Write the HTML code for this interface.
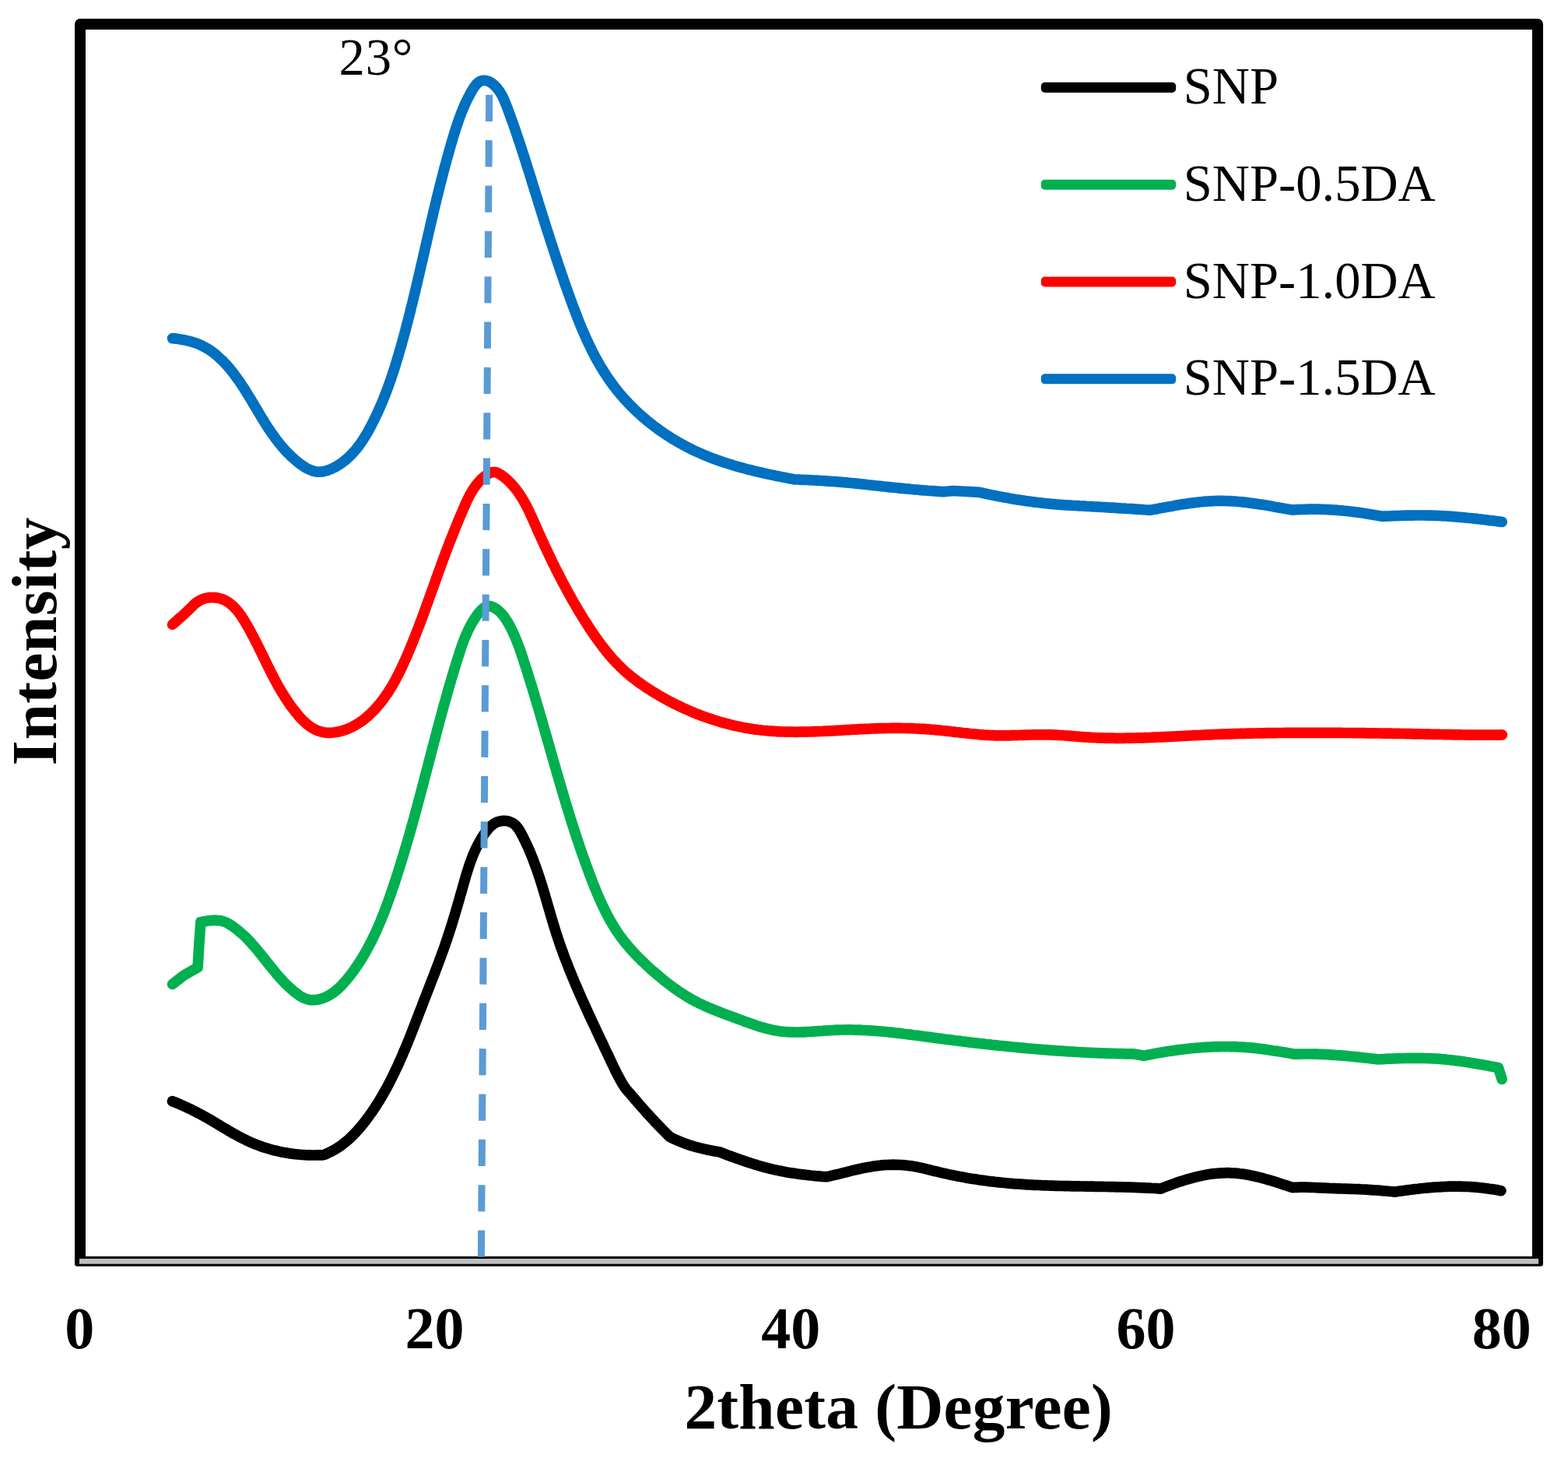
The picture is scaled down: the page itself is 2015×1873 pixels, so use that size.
<!DOCTYPE html>
<html lang="en">
<head>
<meta charset="utf-8">
<title>XRD patterns</title>
<style>
html,body{margin:0;padding:0;background:#fff;}
body{width:2015px;height:1873px;overflow:hidden;}
svg{display:block;}
text{font-family:'Liberation Serif','Times New Roman',Times,serif;fill:#000;}
.b{font-weight:bold;}
.tick{font-size:76px;font-weight:bold;text-anchor:middle;}
.ttl{font-size:83.33px;font-weight:bold;text-anchor:middle;letter-spacing:0.25px;}
.lg{font-size:66.67px;}
.c{fill:none;stroke-width:13.7;stroke-linecap:round;stroke-linejoin:round;}
</style>
</head>
<body>
<svg width="2015" height="1873" viewBox="0 0 2015 1873">
<rect x="0" y="0" width="2015" height="1873" fill="#fff"/>
<path d="M103,1619 L103,31 L1976,31 L1976,1619" fill="none" stroke="#000" stroke-width="14" stroke-linejoin="round" stroke-linecap="butt"/>
<rect x="96" y="1614" width="1887" height="12.8" rx="3" ry="3" fill="#000"/>
<rect x="96" y="1614" width="14" height="6" fill="#000"/>
<rect x="1969" y="1614" width="14" height="6" fill="#000"/>
<rect x="102" y="1617" width="1875" height="6.7" fill="#bfbfbf"/>
<path class="c" stroke="#000000" d="M221.5,1414.7 L224.3,1415.7 L227.1,1416.9 L229.8,1418.1 L232.5,1419.3 L235.3,1420.5 L238.0,1421.7 L240.7,1423.0 L243.4,1424.2 L246.1,1425.5 L248.8,1426.9 L251.4,1428.2 L254.1,1429.6 L256.8,1431.0 L259.4,1432.4 L262.0,1433.9 L264.6,1435.3 L267.3,1436.8 L269.9,1438.3 L272.5,1439.8 L275.1,1441.4 L277.6,1442.9 L280.2,1444.5 L282.8,1446.0 L285.4,1447.6 L288.0,1449.1 L290.6,1450.6 L293.2,1452.2 L295.8,1453.7 L298.4,1455.2 L301.0,1456.7 L303.7,1458.1 L306.3,1459.6 L309.0,1461.0 L311.6,1462.4 L314.3,1463.7 L317.0,1465.0 L319.7,1466.3 L322.4,1467.5 L325.2,1468.7 L327.9,1469.8 L330.7,1470.9 L333.5,1471.9 L336.3,1473.0 L339.1,1473.9 L342.0,1474.8 L344.8,1475.7 L347.7,1476.5 L350.6,1477.3 L353.5,1478.0 L356.4,1478.7 L359.3,1479.4 L362.2,1480.0 L365.1,1480.6 L368.1,1481.1 L371.0,1481.6 L374.0,1482.0 L377.0,1482.4 L379.9,1482.7 L382.9,1483.0 L385.9,1483.3 L388.9,1483.5 L391.9,1483.7 L394.9,1483.8 L397.9,1483.9 L400.9,1484.0 L403.9,1484.0 L407.0,1483.9 L410.0,1483.9 L413.0,1483.8 L416.0,1483.6 L418.9,1482.5 L421.6,1481.2 L424.3,1479.9 L427.0,1478.5 L429.6,1477.1 L432.2,1475.6 L434.7,1474.0 L437.2,1472.3 L439.6,1470.6 L442.0,1468.7 L444.3,1466.9 L446.6,1465.0 L448.8,1463.0 L451.0,1460.9 L453.1,1458.8 L455.2,1456.7 L457.3,1454.5 L459.3,1452.3 L461.3,1450.0 L463.3,1447.8 L465.2,1445.4 L467.1,1443.1 L469.0,1440.7 L470.8,1438.3 L472.6,1435.9 L474.4,1433.5 L476.1,1431.0 L477.9,1428.6 L479.6,1426.1 L481.2,1423.6 L482.9,1421.1 L484.5,1418.6 L486.1,1416.0 L487.7,1413.5 L489.2,1410.9 L490.8,1408.3 L492.3,1405.7 L493.7,1403.1 L495.2,1400.5 L496.7,1397.9 L498.1,1395.3 L499.5,1392.6 L500.9,1389.9 L502.2,1387.3 L503.6,1384.6 L504.9,1381.9 L506.2,1379.2 L507.5,1376.5 L508.8,1373.8 L510.1,1371.1 L511.4,1368.3 L512.6,1365.6 L513.8,1362.8 L515.1,1360.1 L516.3,1357.3 L517.5,1354.6 L518.6,1351.8 L519.8,1349.0 L521.0,1346.2 L522.1,1343.5 L523.3,1340.7 L524.4,1337.9 L525.6,1335.1 L526.7,1332.3 L527.8,1329.5 L528.9,1326.7 L530.0,1323.9 L531.1,1321.0 L532.2,1318.2 L533.3,1315.4 L534.4,1312.6 L535.5,1309.8 L536.6,1307.0 L537.6,1304.2 L538.7,1301.3 L539.8,1298.5 L540.9,1295.7 L542.0,1292.9 L543.1,1290.1 L544.1,1287.3 L545.2,1284.5 L546.3,1281.7 L547.4,1278.9 L548.5,1276.1 L549.6,1273.3 L550.7,1270.5 L551.8,1267.7 L552.8,1264.9 L553.9,1262.1 L555.0,1259.3 L556.1,1256.5 L557.2,1253.7 L558.3,1250.9 L559.3,1248.1 L560.4,1245.3 L561.5,1242.5 L562.5,1239.7 L563.6,1236.9 L564.6,1234.1 L565.7,1231.3 L566.7,1228.5 L567.7,1225.7 L568.7,1222.9 L569.8,1220.0 L570.8,1217.2 L571.8,1214.4 L572.7,1211.5 L573.7,1208.7 L574.7,1205.9 L575.6,1203.0 L576.6,1200.1 L577.5,1197.3 L578.4,1194.4 L579.4,1191.5 L580.3,1188.7 L581.2,1185.8 L582.1,1182.9 L582.9,1180.0 L583.8,1177.1 L584.7,1174.2 L585.5,1171.3 L586.4,1168.4 L587.2,1165.5 L588.1,1162.6 L588.9,1159.7 L589.8,1156.8 L590.6,1153.9 L591.4,1151.0 L592.2,1148.1 L593.1,1145.2 L593.9,1142.3 L594.7,1139.4 L595.5,1136.6 L596.3,1133.7 L597.2,1130.8 L598.0,1127.9 L598.8,1125.0 L599.7,1122.2 L600.6,1119.3 L601.5,1116.5 L602.4,1113.6 L603.3,1110.8 L604.3,1108.0 L605.3,1105.2 L606.4,1102.4 L607.5,1099.6 L608.6,1096.9 L609.8,1094.1 L611.0,1091.4 L612.3,1088.7 L613.7,1086.0 L615.1,1083.3 L616.6,1080.7 L618.1,1078.0 L619.7,1075.4 L621.4,1072.8 L623.2,1070.3 L625.0,1067.8 L627.0,1065.3 L629.0,1063.0 L631.2,1060.9 L633.6,1059.0 L636.0,1057.4 L638.7,1056.1 L641.5,1055.2 L644.4,1054.6 L647.3,1054.4 L650.3,1054.5 L653.2,1055.0 L655.9,1055.9 L658.5,1057.1 L660.8,1058.7 L662.9,1060.6 L664.8,1062.8 L666.6,1065.2 L668.2,1067.8 L669.7,1070.5 L671.1,1073.2 L672.5,1075.9 L673.9,1078.7 L675.2,1081.4 L676.5,1084.2 L677.8,1086.9 L679.1,1089.7 L680.3,1092.5 L681.5,1095.3 L682.6,1098.1 L683.8,1100.9 L684.9,1103.7 L685.9,1106.6 L687.0,1109.4 L688.0,1112.2 L689.1,1115.0 L690.1,1117.9 L691.0,1120.7 L692.0,1123.6 L692.9,1126.4 L693.9,1129.3 L694.8,1132.2 L695.7,1135.0 L696.6,1137.9 L697.5,1140.8 L698.3,1143.6 L699.2,1146.5 L700.1,1149.4 L700.9,1152.3 L701.8,1155.1 L702.6,1158.0 L703.4,1160.9 L704.3,1163.8 L705.1,1166.6 L706.0,1169.5 L706.8,1172.4 L707.6,1175.3 L708.5,1178.2 L709.3,1181.0 L710.2,1183.9 L711.1,1186.8 L711.9,1189.6 L712.8,1192.5 L713.7,1195.4 L714.6,1198.2 L715.5,1201.1 L716.5,1203.9 L717.4,1206.8 L718.4,1209.6 L719.3,1212.4 L720.3,1215.3 L721.3,1218.1 L722.3,1220.9 L723.4,1223.8 L724.4,1226.6 L725.4,1229.4 L726.5,1232.2 L727.6,1235.0 L728.7,1237.8 L729.8,1240.6 L730.9,1243.4 L732.0,1246.2 L733.1,1249.0 L734.3,1251.8 L735.4,1254.6 L736.6,1257.3 L737.7,1260.1 L738.9,1262.9 L740.1,1265.7 L741.3,1268.4 L742.5,1271.2 L743.7,1274.0 L744.9,1276.7 L746.1,1279.5 L747.3,1282.2 L748.5,1285.0 L749.8,1287.7 L751.0,1290.5 L752.3,1293.2 L753.5,1296.0 L754.8,1298.7 L756.0,1301.5 L757.3,1304.2 L758.6,1307.0 L759.8,1309.7 L761.1,1312.4 L762.4,1315.2 L763.7,1317.9 L765.0,1320.6 L766.2,1323.4 L767.5,1326.1 L768.8,1328.8 L770.1,1331.5 L771.4,1334.3 L772.7,1337.0 L774.0,1339.7 L775.3,1342.4 L776.5,1345.2 L777.8,1347.9 L779.1,1350.6 L780.4,1353.3 L781.7,1356.0 L783.0,1358.8 L784.2,1361.5 L785.5,1364.2 L786.8,1366.9 L788.1,1369.6 L789.4,1372.3 L790.7,1375.0 L792.0,1377.7 L793.4,1380.4 L794.8,1383.0 L796.2,1385.6 L797.6,1388.2 L799.1,1390.8 L800.7,1393.4 L802.3,1395.9 L804.0,1398.4 L806.0,1400.7 L808.0,1403.1 L810.1,1405.4 L812.1,1407.8 L814.1,1410.1 L816.1,1412.5 L818.1,1414.8 L820.2,1417.2 L822.2,1419.5 L824.2,1421.8 L826.3,1424.1 L828.4,1426.5 L830.4,1428.8 L832.5,1431.1 L834.6,1433.3 L836.7,1435.6 L838.8,1437.9 L840.9,1440.2 L843.0,1442.4 L845.1,1444.7 L847.3,1446.9 L849.4,1449.1 L851.6,1451.3 L853.8,1453.5 L855.9,1455.7 L858.1,1457.9 L860.3,1460.1 L863.1,1461.6 L865.9,1463.0 L868.7,1464.2 L871.5,1465.5 L874.4,1466.7 L877.3,1467.8 L880.2,1468.9 L883.1,1469.9 L886.0,1470.9 L888.9,1471.9 L891.9,1472.8 L894.9,1473.6 L897.9,1474.4 L900.9,1475.2 L903.9,1475.9 L906.9,1476.6 L910.0,1477.2 L913.0,1477.8 L916.1,1478.4 L919.1,1479.0 L922.2,1479.6 L925.3,1480.1 L928.1,1481.3 L930.9,1482.3 L933.7,1483.4 L936.6,1484.4 L939.4,1485.5 L942.2,1486.5 L945.1,1487.5 L947.9,1488.5 L950.8,1489.5 L953.6,1490.5 L956.5,1491.5 L959.3,1492.5 L962.2,1493.4 L965.0,1494.3 L967.9,1495.2 L970.8,1496.1 L973.6,1497.0 L976.5,1497.8 L979.4,1498.7 L982.3,1499.5 L985.2,1500.2 L988.1,1501.0 L991.0,1501.7 L993.9,1502.4 L996.9,1503.0 L999.8,1503.6 L1002.7,1504.2 L1005.7,1504.8 L1008.6,1505.4 L1011.6,1505.9 L1014.6,1506.4 L1017.5,1506.9 L1020.5,1507.3 L1023.5,1507.8 L1026.5,1508.2 L1029.4,1508.6 L1032.4,1508.9 L1035.4,1509.3 L1038.4,1509.6 L1041.4,1510.0 L1044.4,1510.3 L1047.4,1510.6 L1050.4,1510.8 L1053.4,1511.1 L1056.4,1511.4 L1059.5,1511.6 L1062.5,1511.7 L1065.4,1511.1 L1068.4,1510.4 L1071.3,1509.7 L1074.3,1509.0 L1077.2,1508.3 L1080.1,1507.6 L1083.1,1506.8 L1086.0,1506.1 L1088.9,1505.4 L1091.9,1504.6 L1094.8,1503.9 L1097.7,1503.2 L1100.7,1502.5 L1103.6,1501.8 L1106.5,1501.2 L1109.5,1500.5 L1112.4,1500.0 L1115.4,1499.4 L1118.4,1498.9 L1121.3,1498.4 L1124.3,1498.0 L1127.3,1497.6 L1130.2,1497.2 L1133.2,1496.9 L1136.2,1496.7 L1139.2,1496.5 L1142.2,1496.4 L1145.1,1496.3 L1148.1,1496.2 L1151.1,1496.3 L1154.1,1496.3 L1157.1,1496.5 L1160.1,1496.7 L1163.0,1496.9 L1166.0,1497.2 L1169.0,1497.6 L1171.9,1498.0 L1174.9,1498.5 L1177.8,1499.0 L1180.8,1499.6 L1183.7,1500.2 L1186.6,1500.9 L1189.6,1501.6 L1192.5,1502.3 L1195.4,1503.0 L1198.3,1503.8 L1201.3,1504.5 L1204.2,1505.2 L1207.1,1505.9 L1210.1,1506.6 L1213.0,1507.3 L1216.0,1507.9 L1218.9,1508.6 L1221.9,1509.2 L1224.8,1509.8 L1227.8,1510.4 L1230.7,1511.0 L1233.7,1511.6 L1236.6,1512.1 L1239.6,1512.6 L1242.6,1513.2 L1245.5,1513.7 L1248.5,1514.2 L1251.5,1514.6 L1254.5,1515.1 L1257.4,1515.6 L1260.4,1516.0 L1263.4,1516.4 L1266.4,1516.8 L1269.3,1517.2 L1272.3,1517.6 L1275.3,1517.9 L1278.3,1518.3 L1281.3,1518.6 L1284.3,1518.9 L1287.3,1519.2 L1290.3,1519.5 L1293.2,1519.8 L1296.2,1520.1 L1299.2,1520.3 L1302.2,1520.6 L1305.2,1520.8 L1308.2,1521.0 L1311.2,1521.2 L1314.2,1521.4 L1317.2,1521.6 L1320.2,1521.8 L1323.2,1522.0 L1326.2,1522.1 L1329.2,1522.3 L1332.2,1522.4 L1335.2,1522.5 L1338.2,1522.7 L1341.2,1522.8 L1344.2,1522.9 L1347.2,1523.0 L1350.2,1523.1 L1353.2,1523.2 L1356.3,1523.3 L1359.3,1523.4 L1362.3,1523.5 L1365.3,1523.5 L1368.3,1523.6 L1371.3,1523.7 L1374.3,1523.7 L1377.3,1523.8 L1380.3,1523.8 L1383.3,1523.9 L1386.3,1523.9 L1389.4,1524.0 L1392.4,1524.0 L1395.4,1524.1 L1398.4,1524.1 L1401.4,1524.2 L1404.4,1524.2 L1407.4,1524.3 L1410.4,1524.3 L1413.4,1524.4 L1416.4,1524.4 L1419.5,1524.5 L1422.5,1524.5 L1425.5,1524.6 L1428.5,1524.6 L1431.5,1524.7 L1434.5,1524.8 L1437.5,1524.8 L1440.5,1524.9 L1443.5,1525.0 L1446.5,1525.1 L1449.6,1525.2 L1452.6,1525.2 L1455.6,1525.3 L1458.6,1525.4 L1461.6,1525.6 L1464.6,1525.7 L1467.6,1525.8 L1470.6,1525.9 L1473.6,1526.1 L1476.6,1526.2 L1479.6,1526.4 L1482.6,1526.5 L1485.6,1526.7 L1488.6,1526.9 L1491.6,1527.1 L1494.4,1525.9 L1497.3,1524.8 L1500.1,1523.7 L1503.0,1522.7 L1505.9,1521.6 L1508.7,1520.6 L1511.6,1519.6 L1514.5,1518.6 L1517.4,1517.6 L1520.3,1516.7 L1523.2,1515.8 L1526.1,1514.9 L1529.0,1514.1 L1531.9,1513.3 L1534.8,1512.5 L1537.7,1511.8 L1540.6,1511.1 L1543.6,1510.5 L1546.5,1509.9 L1549.4,1509.3 L1552.3,1508.8 L1555.3,1508.3 L1558.2,1507.9 L1561.1,1507.6 L1564.1,1507.3 L1567.0,1507.1 L1569.9,1506.9 L1572.9,1506.8 L1575.8,1506.7 L1578.8,1506.7 L1581.7,1506.8 L1584.6,1507.0 L1587.6,1507.2 L1590.5,1507.4 L1593.5,1507.8 L1596.4,1508.1 L1599.3,1508.6 L1602.3,1509.1 L1605.2,1509.6 L1608.2,1510.2 L1611.1,1510.8 L1614.0,1511.5 L1617.0,1512.2 L1619.9,1512.9 L1622.8,1513.7 L1625.8,1514.5 L1628.7,1515.3 L1631.6,1516.1 L1634.6,1517.0 L1637.5,1517.9 L1640.4,1518.8 L1643.3,1519.8 L1646.2,1520.7 L1649.1,1521.7 L1652.0,1522.6 L1654.9,1523.6 L1657.8,1524.6 L1660.7,1525.6 L1663.7,1525.4 L1666.8,1525.3 L1669.8,1525.2 L1672.9,1525.1 L1675.9,1525.1 L1678.9,1525.2 L1682.0,1525.3 L1685.0,1525.4 L1688.1,1525.5 L1691.1,1525.6 L1694.2,1525.8 L1697.2,1525.9 L1700.3,1526.1 L1703.4,1526.2 L1706.4,1526.3 L1709.5,1526.5 L1712.6,1526.6 L1715.6,1526.7 L1718.7,1526.8 L1721.8,1526.9 L1724.8,1527.0 L1727.9,1527.1 L1731.0,1527.2 L1734.0,1527.3 L1737.1,1527.4 L1740.2,1527.5 L1743.2,1527.6 L1746.3,1527.7 L1749.3,1527.9 L1752.4,1528.0 L1755.4,1528.2 L1758.5,1528.4 L1761.6,1528.6 L1764.6,1528.8 L1767.7,1529.0 L1770.7,1529.2 L1773.7,1529.4 L1776.8,1529.7 L1779.8,1530.0 L1782.9,1530.2 L1785.9,1530.5 L1789.0,1530.8 L1792.0,1531.2 L1795.0,1530.7 L1798.1,1530.3 L1801.1,1529.9 L1804.2,1529.5 L1807.2,1529.0 L1810.3,1528.6 L1813.3,1528.3 L1816.4,1527.9 L1819.4,1527.5 L1822.5,1527.2 L1825.6,1526.8 L1828.6,1526.5 L1831.7,1526.2 L1834.7,1525.9 L1837.8,1525.7 L1840.8,1525.4 L1843.9,1525.2 L1846.9,1525.0 L1850.0,1524.8 L1853.0,1524.6 L1856.1,1524.5 L1859.1,1524.3 L1862.2,1524.2 L1865.2,1524.2 L1868.3,1524.1 L1871.3,1524.1 L1874.4,1524.1 L1877.4,1524.2 L1880.4,1524.3 L1883.5,1524.4 L1886.5,1524.5 L1889.6,1524.7 L1892.6,1524.9 L1895.6,1525.1 L1898.7,1525.4 L1901.7,1525.7 L1904.7,1526.0 L1907.8,1526.4 L1910.8,1526.7 L1913.8,1527.2 L1916.8,1527.6 L1919.9,1528.1 L1922.9,1528.6 L1925.9,1529.1 L1928.9,1529.7"/>
<path class="c" stroke="#00b050" d="M221.6,1264.4 L235.7,1253.4 L254.1,1242.8 L256.0,1211.2 L258.0,1184.4 L261.0,1183.9 L264.0,1183.4 L267.0,1182.9 L270.0,1182.6 L273.0,1182.3 L276.0,1182.2 L279.0,1182.3 L281.9,1182.6 L284.7,1183.1 L287.5,1183.9 L290.3,1184.9 L293.0,1186.2 L295.6,1187.8 L298.2,1189.4 L300.7,1191.2 L303.1,1193.0 L305.5,1194.9 L307.8,1196.8 L310.1,1198.8 L312.3,1200.8 L314.5,1202.8 L316.7,1204.9 L318.8,1207.1 L320.8,1209.2 L322.8,1211.4 L324.8,1213.7 L326.8,1215.9 L328.8,1218.2 L330.7,1220.5 L332.6,1222.8 L334.5,1225.1 L336.4,1227.4 L338.2,1229.8 L340.1,1232.1 L342.0,1234.5 L343.8,1236.9 L345.7,1239.2 L347.6,1241.6 L349.5,1243.9 L351.4,1246.2 L353.3,1248.5 L355.2,1250.8 L357.1,1253.1 L359.1,1255.4 L361.1,1257.6 L363.2,1259.8 L365.2,1262.0 L367.3,1264.1 L369.5,1266.2 L371.7,1268.3 L373.9,1270.3 L376.2,1272.3 L378.5,1274.3 L380.9,1276.1 L383.4,1277.9 L385.9,1279.6 L388.5,1281.1 L391.1,1282.4 L393.9,1283.4 L396.7,1284.2 L399.6,1284.6 L402.7,1284.7 L405.7,1284.5 L408.8,1284.0 L411.8,1283.3 L414.7,1282.4 L417.5,1281.3 L420.2,1280.1 L422.8,1278.7 L425.3,1277.2 L427.8,1275.6 L430.2,1273.8 L432.5,1271.9 L434.7,1270.0 L436.9,1267.9 L439.0,1265.8 L441.1,1263.6 L443.1,1261.3 L445.1,1259.0 L447.0,1256.7 L448.9,1254.3 L450.8,1251.9 L452.6,1249.5 L454.4,1247.1 L456.1,1244.7 L457.8,1242.2 L459.5,1239.7 L461.2,1237.2 L462.8,1234.7 L464.4,1232.2 L466.0,1229.6 L467.5,1227.0 L469.0,1224.5 L470.5,1221.9 L471.9,1219.3 L473.3,1216.6 L474.7,1214.0 L476.1,1211.3 L477.5,1208.7 L478.8,1206.0 L480.1,1203.3 L481.4,1200.6 L482.7,1197.9 L483.9,1195.2 L485.1,1192.4 L486.3,1189.7 L487.5,1186.9 L488.7,1184.2 L489.8,1181.4 L490.9,1178.6 L492.1,1175.8 L493.2,1173.0 L494.2,1170.2 L495.3,1167.4 L496.4,1164.6 L497.4,1161.8 L498.4,1159.0 L499.5,1156.1 L500.5,1153.3 L501.5,1150.5 L502.5,1147.6 L503.4,1144.8 L504.4,1142.0 L505.4,1139.1 L506.3,1136.3 L507.3,1133.4 L508.2,1130.6 L509.2,1127.7 L510.1,1124.8 L511.0,1122.0 L511.9,1119.1 L512.8,1116.3 L513.7,1113.4 L514.6,1110.5 L515.5,1107.7 L516.4,1104.8 L517.3,1101.9 L518.2,1099.1 L519.0,1096.2 L519.9,1093.3 L520.7,1090.4 L521.6,1087.6 L522.4,1084.7 L523.3,1081.8 L524.1,1078.9 L524.9,1076.0 L525.8,1073.2 L526.6,1070.3 L527.4,1067.4 L528.2,1064.5 L529.0,1061.6 L529.9,1058.7 L530.7,1055.8 L531.5,1052.9 L532.3,1050.0 L533.0,1047.2 L533.8,1044.3 L534.6,1041.4 L535.4,1038.5 L536.2,1035.6 L537.0,1032.7 L537.7,1029.8 L538.5,1026.9 L539.3,1024.0 L540.1,1021.1 L540.8,1018.2 L541.6,1015.3 L542.4,1012.4 L543.1,1009.5 L543.9,1006.6 L544.6,1003.7 L545.4,1000.8 L546.2,997.9 L546.9,995.0 L547.7,992.1 L548.4,989.2 L549.2,986.3 L550.0,983.4 L550.7,980.5 L551.5,977.6 L552.2,974.7 L553.0,971.8 L553.7,968.9 L554.5,966.0 L555.2,963.0 L556.0,960.1 L556.8,957.2 L557.5,954.3 L558.3,951.4 L559.1,948.5 L559.8,945.6 L560.6,942.7 L561.3,939.8 L562.1,936.9 L562.9,934.0 L563.7,931.2 L564.4,928.3 L565.2,925.4 L566.0,922.5 L566.8,919.6 L567.6,916.7 L568.4,913.8 L569.2,910.9 L569.9,908.0 L570.7,905.1 L571.6,902.2 L572.4,899.3 L573.2,896.4 L574.0,893.6 L574.8,890.7 L575.6,887.8 L576.4,884.9 L577.3,882.0 L578.1,879.2 L579.0,876.3 L579.8,873.4 L580.6,870.5 L581.5,867.6 L582.4,864.8 L583.2,861.9 L584.1,859.0 L585.0,856.2 L585.9,853.3 L586.7,850.4 L587.6,847.6 L588.5,844.7 L589.5,841.9 L590.4,839.0 L591.3,836.1 L592.3,833.3 L593.2,830.5 L594.2,827.6 L595.3,824.8 L596.3,822.0 L597.4,819.2 L598.6,816.4 L599.8,813.7 L601.0,810.9 L602.4,808.2 L603.7,805.5 L605.1,802.8 L606.6,800.1 L608.2,797.5 L609.9,794.9 L611.6,792.3 L613.4,789.7 L615.3,787.2 L617.3,784.9 L619.4,782.7 L621.5,781.0 L623.8,779.6 L626.2,778.8 L628.7,778.6 L631.3,779.1 L633.9,780.1 L636.4,781.4 L638.8,783.1 L641.1,784.9 L643.2,786.9 L645.3,789.1 L647.2,791.5 L649.0,794.0 L650.7,796.6 L652.4,799.2 L654.0,802.0 L655.5,804.7 L656.9,807.5 L658.3,810.3 L659.6,813.1 L660.8,815.8 L662.0,818.6 L663.2,821.4 L664.3,824.2 L665.4,827.0 L666.5,829.8 L667.5,832.6 L668.5,835.4 L669.5,838.3 L670.4,841.1 L671.4,843.9 L672.3,846.7 L673.2,849.5 L674.1,852.4 L675.0,855.2 L676.0,858.0 L676.9,860.9 L677.8,863.7 L678.7,866.6 L679.6,869.4 L680.4,872.3 L681.3,875.1 L682.2,878.0 L683.1,880.8 L684.0,883.7 L684.8,886.5 L685.7,889.4 L686.6,892.2 L687.4,895.1 L688.3,898.0 L689.1,900.8 L690.0,903.7 L690.8,906.6 L691.7,909.4 L692.5,912.3 L693.4,915.2 L694.2,918.1 L695.0,920.9 L695.9,923.8 L696.7,926.7 L697.5,929.6 L698.4,932.5 L699.2,935.3 L700.0,938.2 L700.8,941.1 L701.7,944.0 L702.5,946.9 L703.3,949.8 L704.1,952.6 L705.0,955.5 L705.8,958.4 L706.6,961.3 L707.4,964.2 L708.3,967.1 L709.1,970.0 L709.9,972.9 L710.7,975.7 L711.6,978.6 L712.4,981.5 L713.2,984.4 L714.1,987.3 L714.9,990.2 L715.7,993.1 L716.6,996.0 L717.4,998.9 L718.2,1001.7 L719.1,1004.6 L719.9,1007.5 L720.8,1010.4 L721.6,1013.3 L722.5,1016.2 L723.3,1019.0 L724.2,1021.9 L725.0,1024.8 L725.9,1027.7 L726.8,1030.6 L727.6,1033.4 L728.5,1036.3 L729.4,1039.2 L730.3,1042.1 L731.2,1044.9 L732.0,1047.8 L732.9,1050.7 L733.8,1053.5 L734.7,1056.4 L735.7,1059.3 L736.6,1062.1 L737.5,1065.0 L738.4,1067.9 L739.3,1070.7 L740.3,1073.6 L741.2,1076.4 L742.2,1079.3 L743.1,1082.1 L744.1,1085.0 L745.0,1087.8 L746.0,1090.7 L747.0,1093.5 L748.0,1096.3 L749.0,1099.2 L750.0,1102.0 L751.0,1104.8 L752.0,1107.6 L753.0,1110.5 L754.0,1113.3 L755.1,1116.1 L756.1,1118.9 L757.1,1121.7 L758.2,1124.5 L759.3,1127.3 L760.3,1130.1 L761.4,1132.9 L762.5,1135.7 L763.6,1138.5 L764.7,1141.3 L765.9,1144.1 L767.0,1146.8 L768.2,1149.6 L769.4,1152.3 L770.6,1155.1 L771.8,1157.8 L773.0,1160.5 L774.3,1163.2 L775.6,1165.9 L776.9,1168.6 L778.2,1171.3 L779.6,1173.9 L780.9,1176.6 L782.4,1179.2 L783.8,1181.8 L785.3,1184.4 L786.8,1186.9 L788.3,1189.5 L789.9,1192.0 L791.5,1194.5 L793.1,1197.0 L794.8,1199.5 L796.5,1201.9 L798.3,1204.3 L800.1,1206.7 L801.9,1209.1 L803.8,1211.4 L805.7,1213.7 L807.6,1216.0 L809.6,1218.3 L811.6,1220.6 L813.6,1222.8 L815.7,1225.0 L817.8,1227.2 L819.9,1229.4 L822.0,1231.5 L824.2,1233.7 L826.4,1235.8 L828.6,1237.9 L830.8,1240.0 L833.0,1242.0 L835.2,1244.0 L837.5,1246.1 L839.8,1248.1 L842.1,1250.0 L844.4,1252.0 L846.7,1253.9 L849.0,1255.9 L851.3,1257.8 L853.6,1259.7 L856.0,1261.5 L858.4,1263.4 L860.7,1265.2 L863.1,1267.0 L865.5,1268.7 L867.9,1270.5 L870.4,1272.2 L872.8,1273.9 L875.3,1275.5 L877.8,1277.1 L880.3,1278.7 L882.8,1280.3 L885.4,1281.8 L887.9,1283.3 L890.5,1284.7 L893.1,1286.1 L895.8,1287.5 L898.4,1288.8 L901.1,1290.1 L903.8,1291.3 L906.5,1292.6 L909.3,1293.8 L912.0,1295.0 L914.8,1296.1 L917.6,1297.3 L920.4,1298.4 L923.2,1299.5 L926.0,1300.6 L928.8,1301.7 L931.6,1302.7 L934.5,1303.8 L937.3,1304.8 L940.1,1305.9 L943.0,1307.0 L945.8,1308.0 L948.7,1309.1 L951.5,1310.1 L954.4,1311.2 L957.2,1312.3 L960.0,1313.3 L962.9,1314.3 L965.7,1315.3 L968.6,1316.3 L971.4,1317.3 L974.3,1318.2 L977.2,1319.1 L980.0,1319.9 L982.9,1320.7 L985.8,1321.5 L988.7,1322.2 L991.6,1322.9 L994.5,1323.5 L997.4,1324.0 L1000.3,1324.5 L1003.2,1324.9 L1006.2,1325.2 L1009.1,1325.5 L1012.1,1325.7 L1015.0,1325.8 L1018.0,1325.9 L1021.0,1326.0 L1024.0,1326.0 L1027.0,1326.0 L1030.0,1325.9 L1033.0,1325.8 L1036.0,1325.6 L1039.0,1325.5 L1042.0,1325.3 L1045.0,1325.1 L1048.1,1324.9 L1051.1,1324.7 L1054.1,1324.5 L1057.1,1324.3 L1060.2,1324.0 L1063.2,1323.8 L1066.2,1323.6 L1069.2,1323.5 L1072.3,1323.3 L1075.3,1323.2 L1078.3,1323.1 L1081.3,1323.0 L1084.3,1323.0 L1087.3,1322.9 L1090.3,1322.9 L1093.3,1322.9 L1096.3,1323.0 L1099.3,1323.1 L1102.3,1323.1 L1105.3,1323.2 L1108.3,1323.4 L1111.3,1323.5 L1114.3,1323.7 L1117.3,1323.8 L1120.3,1324.0 L1123.3,1324.2 L1126.2,1324.5 L1129.2,1324.7 L1132.2,1325.0 L1135.2,1325.2 L1138.2,1325.5 L1141.1,1325.8 L1144.1,1326.1 L1147.1,1326.4 L1150.1,1326.8 L1153.0,1327.1 L1156.0,1327.4 L1159.0,1327.8 L1162.0,1328.2 L1164.9,1328.5 L1167.9,1328.9 L1170.9,1329.3 L1173.9,1329.7 L1176.8,1330.0 L1179.8,1330.4 L1182.8,1330.8 L1185.7,1331.2 L1188.7,1331.6 L1191.7,1332.0 L1194.7,1332.4 L1197.6,1332.8 L1200.6,1333.2 L1203.6,1333.6 L1206.5,1334.0 L1209.5,1334.4 L1212.5,1334.8 L1215.5,1335.2 L1218.4,1335.5 L1221.4,1335.9 L1224.4,1336.3 L1227.4,1336.7 L1230.3,1337.0 L1233.3,1337.4 L1236.3,1337.8 L1239.3,1338.1 L1242.3,1338.5 L1245.2,1338.9 L1248.2,1339.2 L1251.2,1339.6 L1254.2,1339.9 L1257.1,1340.2 L1260.1,1340.6 L1263.1,1340.9 L1266.1,1341.3 L1269.1,1341.6 L1272.1,1341.9 L1275.0,1342.3 L1278.0,1342.6 L1281.0,1342.9 L1284.0,1343.2 L1287.0,1343.5 L1290.0,1343.8 L1292.9,1344.1 L1295.9,1344.4 L1298.9,1344.7 L1301.9,1345.0 L1304.9,1345.3 L1307.9,1345.6 L1310.9,1345.9 L1313.9,1346.2 L1316.8,1346.4 L1319.8,1346.7 L1322.8,1347.0 L1325.8,1347.2 L1328.8,1347.5 L1331.8,1347.7 L1334.8,1348.0 L1337.8,1348.2 L1340.8,1348.5 L1343.7,1348.7 L1346.7,1348.9 L1349.7,1349.2 L1352.7,1349.4 L1355.7,1349.6 L1358.7,1349.8 L1361.7,1350.0 L1364.7,1350.2 L1367.7,1350.4 L1370.7,1350.6 L1373.7,1350.8 L1376.7,1351.0 L1379.7,1351.2 L1382.7,1351.4 L1385.7,1351.5 L1388.6,1351.7 L1391.6,1351.8 L1394.6,1352.0 L1397.6,1352.1 L1400.6,1352.3 L1403.6,1352.4 L1406.6,1352.6 L1409.6,1352.7 L1412.6,1352.8 L1415.6,1352.9 L1418.6,1353.0 L1421.6,1353.1 L1424.6,1353.2 L1427.6,1353.3 L1430.6,1353.4 L1433.6,1353.5 L1436.6,1353.6 L1439.6,1353.7 L1442.6,1353.7 L1445.6,1353.8 L1448.6,1353.8 L1451.6,1353.9 L1454.6,1353.9 L1457.6,1353.9 L1470.1,1356.2 L1473.1,1355.6 L1476.0,1355.0 L1479.0,1354.5 L1482.0,1353.9 L1485.0,1353.3 L1488.0,1352.8 L1491.0,1352.3 L1494.0,1351.8 L1497.0,1351.3 L1500.0,1350.8 L1503.0,1350.3 L1506.0,1349.9 L1509.0,1349.4 L1512.0,1349.0 L1515.0,1348.6 L1518.1,1348.2 L1521.1,1347.9 L1524.1,1347.5 L1527.1,1347.2 L1530.2,1346.8 L1533.2,1346.5 L1536.2,1346.3 L1539.2,1346.0 L1542.3,1345.8 L1545.3,1345.5 L1548.3,1345.3 L1551.4,1345.2 L1554.4,1345.0 L1557.4,1344.9 L1560.5,1344.7 L1563.5,1344.7 L1566.6,1344.6 L1569.6,1344.5 L1572.6,1344.5 L1575.7,1344.5 L1578.7,1344.5 L1581.7,1344.6 L1584.7,1344.6 L1587.8,1344.7 L1590.8,1344.9 L1593.8,1345.0 L1596.8,1345.2 L1599.9,1345.4 L1602.9,1345.6 L1605.9,1345.8 L1608.9,1346.1 L1611.9,1346.4 L1615.0,1346.8 L1618.0,1347.1 L1621.0,1347.5 L1624.0,1347.9 L1627.0,1348.3 L1630.0,1348.7 L1633.0,1349.2 L1636.0,1349.7 L1639.0,1350.1 L1642.0,1350.6 L1645.0,1351.1 L1648.0,1351.6 L1651.0,1352.1 L1654.0,1352.6 L1657.0,1353.1 L1660.0,1353.6 L1663.0,1354.2 L1666.0,1354.1 L1669.0,1354.1 L1672.1,1354.0 L1675.1,1354.0 L1678.1,1354.0 L1681.1,1354.0 L1684.1,1354.0 L1687.1,1354.0 L1690.2,1354.1 L1693.2,1354.2 L1696.2,1354.3 L1699.2,1354.4 L1702.2,1354.6 L1705.2,1354.7 L1708.3,1354.9 L1711.3,1355.1 L1714.3,1355.3 L1717.3,1355.5 L1720.3,1355.7 L1723.3,1355.9 L1726.4,1356.2 L1729.4,1356.4 L1732.4,1356.7 L1735.4,1357.0 L1738.4,1357.3 L1741.4,1357.6 L1744.5,1357.9 L1747.5,1358.2 L1750.5,1358.5 L1753.5,1358.9 L1756.5,1359.2 L1759.5,1359.5 L1762.6,1359.9 L1765.6,1360.2 L1768.6,1360.6 L1771.6,1361.0 L1774.6,1360.7 L1777.7,1360.6 L1780.7,1360.4 L1783.8,1360.2 L1786.8,1360.1 L1789.9,1360.0 L1792.9,1359.8 L1795.9,1359.7 L1799.0,1359.6 L1802.0,1359.5 L1805.0,1359.5 L1808.1,1359.4 L1811.1,1359.3 L1814.2,1359.3 L1817.2,1359.3 L1820.2,1359.3 L1823.3,1359.3 L1826.3,1359.4 L1829.3,1359.4 L1832.3,1359.5 L1835.4,1359.6 L1838.4,1359.7 L1841.4,1359.8 L1844.4,1360.0 L1847.5,1360.2 L1850.5,1360.4 L1853.5,1360.7 L1856.5,1360.9 L1859.5,1361.2 L1862.5,1361.5 L1865.5,1361.9 L1868.5,1362.2 L1871.5,1362.6 L1874.6,1363.0 L1877.6,1363.4 L1880.6,1363.8 L1883.6,1364.3 L1886.6,1364.7 L1889.6,1365.2 L1892.6,1365.7 L1895.6,1366.2 L1898.6,1366.7 L1901.6,1367.2 L1904.6,1367.7 L1907.5,1368.3 L1910.5,1368.8 L1913.5,1369.4 L1916.5,1369.9 L1919.5,1370.5 L1922.5,1371.0 L1925.5,1371.7 L1930.1,1386.4"/>
<path class="c" stroke="#ff0000" d="M221.6,802.3 L223.8,800.3 L226.1,798.4 L228.3,796.4 L230.5,794.4 L232.8,792.5 L235.0,790.5 L237.2,788.5 L239.4,786.4 L241.6,784.3 L243.8,782.2 L246.0,780.0 L248.2,777.8 L250.5,775.7 L252.9,773.8 L255.4,772.1 L258.0,770.7 L260.8,769.5 L263.7,768.6 L266.6,768.0 L269.6,767.6 L272.6,767.5 L275.6,767.6 L278.6,767.9 L281.5,768.5 L284.3,769.3 L287.1,770.3 L289.7,771.6 L292.2,773.0 L294.6,774.6 L296.9,776.4 L299.1,778.3 L301.2,780.3 L303.2,782.5 L305.2,784.8 L307.1,787.2 L308.9,789.7 L310.6,792.2 L312.3,794.8 L314.0,797.5 L315.6,800.1 L317.1,802.8 L318.7,805.5 L320.2,808.2 L321.7,810.8 L323.1,813.5 L324.5,816.2 L326.0,818.9 L327.3,821.6 L328.7,824.2 L330.1,826.9 L331.4,829.6 L332.8,832.3 L334.1,835.0 L335.4,837.6 L336.7,840.3 L338.0,843.0 L339.3,845.6 L340.6,848.3 L341.9,851.0 L343.2,853.6 L344.5,856.3 L345.8,858.9 L347.1,861.5 L348.5,864.2 L349.8,866.8 L351.2,869.4 L352.5,872.0 L353.9,874.7 L355.4,877.3 L356.8,879.9 L358.2,882.5 L359.7,885.0 L361.2,887.6 L362.8,890.2 L364.4,892.7 L366.0,895.3 L367.6,897.8 L369.3,900.4 L371.0,902.9 L372.7,905.4 L374.5,907.9 L376.4,910.4 L378.3,912.8 L380.2,915.3 L382.2,917.7 L384.2,920.1 L386.3,922.4 L388.4,924.7 L390.6,926.8 L392.9,928.9 L395.2,930.8 L397.5,932.6 L400.0,934.3 L402.5,935.8 L405.0,937.2 L407.6,938.4 L410.3,939.3 L413.0,940.1 L415.8,940.7 L418.7,941.1 L421.6,941.3 L424.5,941.3 L427.5,941.1 L430.4,940.8 L433.4,940.3 L436.4,939.7 L439.3,938.9 L442.2,938.0 L445.1,937.0 L448.0,935.9 L450.8,934.6 L453.5,933.3 L456.2,931.8 L458.8,930.3 L461.3,928.7 L463.8,927.0 L466.3,925.3 L468.7,923.4 L471.0,921.5 L473.3,919.5 L475.5,917.5 L477.6,915.4 L479.8,913.3 L481.8,911.1 L483.8,908.9 L485.8,906.7 L487.7,904.4 L489.6,902.0 L491.4,899.7 L493.2,897.3 L494.9,894.9 L496.6,892.4 L498.3,890.0 L499.9,887.5 L501.5,884.9 L503.0,882.4 L504.6,879.8 L506.0,877.2 L507.5,874.6 L508.9,872.0 L510.3,869.3 L511.7,866.7 L513.0,864.0 L514.4,861.3 L515.7,858.6 L516.9,855.9 L518.2,853.1 L519.4,850.4 L520.7,847.7 L521.9,844.9 L523.1,842.2 L524.3,839.4 L525.5,836.6 L526.6,833.9 L527.8,831.1 L529.0,828.3 L530.1,825.5 L531.2,822.7 L532.3,819.9 L533.4,817.2 L534.5,814.4 L535.6,811.6 L536.7,808.8 L537.8,805.9 L538.9,803.1 L539.9,800.3 L541.0,797.5 L542.0,794.7 L543.1,791.9 L544.1,789.1 L545.2,786.2 L546.2,783.4 L547.2,780.6 L548.2,777.8 L549.3,774.9 L550.3,772.1 L551.3,769.3 L552.3,766.5 L553.3,763.6 L554.3,760.8 L555.3,758.0 L556.4,755.2 L557.4,752.3 L558.4,749.5 L559.4,746.7 L560.4,743.9 L561.4,741.0 L562.4,738.2 L563.4,735.4 L564.5,732.6 L565.5,729.8 L566.5,727.0 L567.5,724.1 L568.6,721.3 L569.6,718.5 L570.6,715.7 L571.7,712.9 L572.7,710.1 L573.8,707.3 L574.9,704.5 L575.9,701.7 L577.0,698.9 L578.1,696.1 L579.2,693.4 L580.3,690.6 L581.4,687.8 L582.5,685.0 L583.6,682.2 L584.7,679.4 L585.9,676.6 L587.0,673.9 L588.1,671.1 L589.3,668.3 L590.4,665.5 L591.6,662.7 L592.8,659.9 L594.0,657.2 L595.2,654.4 L596.4,651.6 L597.6,648.8 L598.8,646.0 L600.1,643.3 L601.4,640.6 L602.8,637.9 L604.2,635.2 L605.7,632.6 L607.2,630.0 L608.8,627.5 L610.5,625.1 L612.3,622.7 L614.2,620.3 L616.2,618.1 L618.3,615.9 L620.5,613.9 L622.8,611.9 L625.3,610.0 L627.9,608.4 L630.5,607.2 L633.2,606.5 L635.9,606.5 L638.6,607.2 L641.3,608.5 L643.9,610.1 L646.4,611.9 L648.9,613.8 L651.3,615.9 L653.6,618.0 L655.8,620.2 L657.9,622.4 L659.9,624.7 L661.9,627.1 L663.7,629.5 L665.5,631.9 L667.2,634.3 L668.9,636.8 L670.5,639.4 L672.1,641.9 L673.5,644.5 L675.0,647.1 L676.4,649.7 L677.8,652.4 L679.1,655.1 L680.4,657.8 L681.6,660.5 L682.9,663.2 L684.1,665.9 L685.4,668.7 L686.6,671.4 L687.8,674.1 L689.0,676.9 L690.2,679.6 L691.4,682.4 L692.6,685.1 L693.9,687.8 L695.1,690.6 L696.4,693.3 L697.6,696.0 L698.9,698.7 L700.1,701.5 L701.4,704.2 L702.7,706.9 L703.9,709.6 L705.2,712.3 L706.5,715.0 L707.8,717.7 L709.1,720.4 L710.4,723.1 L711.8,725.8 L713.1,728.5 L714.4,731.2 L715.8,733.8 L717.1,736.5 L718.5,739.2 L719.9,741.9 L721.3,744.5 L722.6,747.2 L724.0,749.8 L725.5,752.5 L726.9,755.1 L728.3,757.7 L729.7,760.4 L731.2,763.0 L732.7,765.6 L734.1,768.2 L735.6,770.8 L737.1,773.5 L738.6,776.1 L740.1,778.6 L741.6,781.2 L743.2,783.8 L744.7,786.4 L746.3,789.0 L747.9,791.5 L749.4,794.1 L751.0,796.6 L752.6,799.2 L754.3,801.7 L755.9,804.2 L757.5,806.8 L759.2,809.3 L760.9,811.8 L762.6,814.3 L764.3,816.8 L766.0,819.2 L767.7,821.7 L769.5,824.1 L771.3,826.6 L773.1,829.0 L774.9,831.4 L776.8,833.7 L778.6,836.1 L780.5,838.4 L782.4,840.7 L784.4,843.0 L786.3,845.3 L788.3,847.5 L790.4,849.7 L792.4,851.9 L794.5,854.0 L796.6,856.1 L798.7,858.2 L800.9,860.2 L803.1,862.2 L805.3,864.2 L807.6,866.2 L809.9,868.1 L812.2,870.0 L814.6,871.8 L817.0,873.6 L819.4,875.4 L821.8,877.2 L824.2,878.9 L826.7,880.6 L829.2,882.3 L831.7,884.0 L834.2,885.6 L836.7,887.2 L839.3,888.8 L841.9,890.4 L844.4,891.9 L847.0,893.5 L849.6,895.0 L852.3,896.5 L854.9,897.9 L857.5,899.4 L860.2,900.8 L862.9,902.2 L865.6,903.6 L868.2,904.9 L871.0,906.2 L873.7,907.5 L876.4,908.8 L879.1,910.1 L881.9,911.3 L884.6,912.5 L887.4,913.7 L890.2,914.9 L892.9,916.0 L895.7,917.2 L898.5,918.2 L901.3,919.3 L904.2,920.4 L907.0,921.4 L909.8,922.4 L912.7,923.3 L915.5,924.3 L918.4,925.2 L921.2,926.1 L924.1,927.0 L927.0,927.8 L929.9,928.6 L932.8,929.4 L935.7,930.1 L938.6,930.9 L941.5,931.6 L944.4,932.3 L947.3,932.9 L950.3,933.5 L953.2,934.1 L956.1,934.7 L959.1,935.2 L962.0,935.7 L965.0,936.2 L967.9,936.7 L970.9,937.1 L973.8,937.5 L976.8,937.8 L979.8,938.2 L982.7,938.5 L985.7,938.7 L988.7,939.0 L991.6,939.2 L994.6,939.4 L997.6,939.6 L1000.6,939.8 L1003.6,939.9 L1006.6,940.0 L1009.6,940.1 L1012.6,940.2 L1015.6,940.2 L1018.6,940.2 L1021.6,940.3 L1024.6,940.3 L1027.6,940.2 L1030.6,940.2 L1033.6,940.2 L1036.6,940.1 L1039.6,940.0 L1042.6,939.9 L1045.6,939.9 L1048.6,939.7 L1051.6,939.6 L1054.7,939.5 L1057.7,939.4 L1060.7,939.2 L1063.7,939.1 L1066.7,938.9 L1069.7,938.8 L1072.7,938.6 L1075.8,938.4 L1078.8,938.3 L1081.8,938.1 L1084.8,937.9 L1087.8,937.7 L1090.8,937.6 L1093.8,937.4 L1096.9,937.2 L1099.9,937.1 L1102.9,936.9 L1105.9,936.7 L1108.9,936.6 L1111.9,936.4 L1114.9,936.3 L1117.9,936.2 L1120.9,936.0 L1123.9,935.9 L1126.9,935.8 L1129.9,935.7 L1132.9,935.6 L1135.9,935.6 L1138.9,935.5 L1141.9,935.5 L1144.9,935.4 L1147.9,935.4 L1150.9,935.4 L1153.8,935.4 L1156.8,935.4 L1159.8,935.5 L1162.8,935.5 L1165.8,935.6 L1168.8,935.7 L1171.7,935.7 L1174.7,935.9 L1177.7,936.0 L1180.7,936.1 L1183.7,936.3 L1186.6,936.4 L1189.6,936.6 L1192.6,936.8 L1195.6,937.1 L1198.6,937.3 L1201.6,937.6 L1204.5,937.9 L1207.5,938.1 L1210.5,938.5 L1213.5,938.8 L1216.5,939.1 L1219.5,939.4 L1222.5,939.8 L1225.5,940.1 L1228.4,940.5 L1231.4,940.8 L1234.4,941.1 L1237.4,941.5 L1240.4,941.8 L1243.4,942.1 L1246.4,942.5 L1249.4,942.8 L1252.4,943.0 L1255.4,943.3 L1258.4,943.6 L1261.4,943.8 L1264.4,944.1 L1267.4,944.3 L1270.4,944.4 L1273.4,944.6 L1276.4,944.7 L1279.4,944.8 L1282.4,944.9 L1285.4,944.9 L1288.4,944.9 L1291.4,944.9 L1294.4,944.9 L1297.4,944.8 L1300.4,944.7 L1303.4,944.7 L1306.4,944.6 L1309.4,944.5 L1312.4,944.4 L1315.4,944.3 L1318.4,944.2 L1321.3,944.1 L1324.3,944.0 L1327.3,943.9 L1330.3,943.9 L1333.3,943.8 L1336.3,943.8 L1339.3,943.8 L1342.3,943.8 L1345.3,943.8 L1348.3,943.9 L1351.3,943.9 L1354.3,944.1 L1357.3,944.2 L1360.3,944.4 L1363.3,944.5 L1366.3,944.7 L1369.3,945.0 L1372.3,945.2 L1375.3,945.4 L1378.3,945.6 L1381.3,945.9 L1384.3,946.1 L1387.3,946.4 L1390.3,946.6 L1393.3,946.8 L1396.3,947.0 L1399.3,947.2 L1402.3,947.4 L1405.3,947.5 L1408.3,947.7 L1411.3,947.8 L1414.3,947.9 L1417.3,948.0 L1420.3,948.1 L1423.3,948.1 L1426.3,948.2 L1429.3,948.2 L1432.3,948.3 L1435.3,948.3 L1438.3,948.3 L1441.3,948.3 L1444.3,948.3 L1447.3,948.2 L1450.3,948.2 L1453.3,948.1 L1456.3,948.1 L1459.3,948.0 L1462.3,947.9 L1465.3,947.9 L1468.3,947.8 L1471.3,947.7 L1474.3,947.6 L1477.3,947.5 L1480.3,947.3 L1483.3,947.2 L1486.3,947.1 L1489.3,947.0 L1492.3,946.8 L1495.3,946.7 L1498.3,946.6 L1501.3,946.4 L1504.3,946.3 L1507.3,946.1 L1510.3,946.0 L1513.3,945.8 L1516.3,945.7 L1519.3,945.5 L1522.3,945.3 L1525.3,945.2 L1528.3,945.0 L1531.3,944.9 L1534.3,944.7 L1537.3,944.6 L1540.3,944.5 L1543.3,944.3 L1546.3,944.2 L1549.3,944.0 L1552.3,943.9 L1555.3,943.8 L1558.3,943.7 L1561.3,943.5 L1564.3,943.4 L1567.3,943.3 L1570.3,943.2 L1573.3,943.1 L1576.3,943.0 L1579.3,942.9 L1582.3,942.8 L1585.3,942.7 L1588.3,942.6 L1591.3,942.5 L1594.3,942.4 L1597.3,942.4 L1600.3,942.3 L1603.3,942.2 L1606.3,942.1 L1609.3,942.1 L1612.3,942.0 L1615.3,942.0 L1618.3,941.9 L1621.3,941.8 L1624.3,941.8 L1627.3,941.7 L1630.3,941.7 L1633.3,941.6 L1636.3,941.6 L1639.3,941.6 L1642.3,941.5 L1645.3,941.5 L1648.3,941.5 L1651.3,941.4 L1654.3,941.4 L1657.3,941.4 L1660.3,941.4 L1663.3,941.3 L1666.3,941.3 L1669.3,941.3 L1672.3,941.3 L1675.3,941.3 L1678.3,941.3 L1681.3,941.3 L1684.3,941.3 L1687.3,941.3 L1690.3,941.3 L1693.3,941.3 L1696.3,941.3 L1699.3,941.3 L1702.3,941.3 L1705.3,941.3 L1708.3,941.3 L1711.3,941.3 L1714.3,941.4 L1717.3,941.4 L1720.3,941.4 L1723.3,941.4 L1726.3,941.5 L1729.3,941.5 L1732.3,941.5 L1735.3,941.5 L1738.3,941.6 L1741.3,941.6 L1744.3,941.6 L1747.3,941.7 L1750.3,941.7 L1753.3,941.7 L1756.3,941.8 L1759.3,941.8 L1762.3,941.9 L1765.3,941.9 L1768.3,941.9 L1771.3,942.0 L1774.3,942.0 L1777.3,942.1 L1780.3,942.1 L1783.3,942.2 L1786.3,942.2 L1789.3,942.3 L1792.3,942.3 L1795.3,942.4 L1798.3,942.4 L1801.3,942.5 L1804.3,942.5 L1807.3,942.6 L1810.3,942.7 L1813.3,942.7 L1816.3,942.8 L1819.3,942.8 L1822.3,942.9 L1825.3,943.0 L1828.3,943.0 L1831.3,943.1 L1834.3,943.1 L1837.3,943.2 L1840.3,943.3 L1843.3,943.3 L1846.3,943.4 L1849.3,943.4 L1852.3,943.5 L1855.3,943.6 L1858.3,943.6 L1861.3,943.7 L1864.3,943.7 L1867.3,943.8 L1870.3,943.8 L1873.3,943.9 L1876.3,943.9 L1879.3,944.0 L1882.3,944.0 L1885.3,944.1 L1888.3,944.1 L1891.3,944.1 L1894.3,944.2 L1897.3,944.2 L1900.3,944.2 L1903.3,944.2 L1906.3,944.2 L1909.3,944.2 L1912.3,944.2 L1915.3,944.2 L1918.3,944.2 L1921.3,944.2 L1924.3,944.1 L1927.3,944.1 L1930.3,943.9"/>
<path class="c" stroke="#0070c0" d="M221.6,434.7 L224.6,434.9 L227.6,435.3 L230.6,435.7 L233.6,436.2 L236.6,436.7 L239.6,437.4 L242.5,438.0 L245.4,438.8 L248.3,439.7 L251.1,440.6 L253.9,441.6 L256.6,442.7 L259.3,444.0 L261.9,445.3 L264.4,446.7 L266.9,448.2 L269.4,449.7 L271.8,451.4 L274.1,453.1 L276.5,454.9 L278.7,456.7 L280.9,458.7 L283.1,460.7 L285.3,462.7 L287.4,464.8 L289.4,467.0 L291.5,469.2 L293.4,471.5 L295.4,473.8 L297.3,476.1 L299.2,478.5 L301.1,480.9 L302.9,483.4 L304.7,485.9 L306.5,488.4 L308.2,490.9 L309.9,493.5 L311.6,496.0 L313.3,498.6 L315.0,501.2 L316.6,503.8 L318.2,506.4 L319.8,509.0 L321.4,511.6 L323.0,514.2 L324.5,516.8 L326.1,519.4 L327.6,522.0 L329.2,524.6 L330.7,527.2 L332.3,529.8 L333.8,532.4 L335.3,534.9 L336.9,537.5 L338.5,540.0 L340.0,542.6 L341.6,545.1 L343.2,547.6 L344.8,550.1 L346.5,552.5 L348.1,555.0 L349.8,557.4 L351.5,559.8 L353.3,562.2 L355.0,564.6 L356.8,566.9 L358.6,569.2 L360.5,571.5 L362.4,573.8 L364.4,576.0 L366.3,578.2 L368.4,580.4 L370.4,582.5 L372.6,584.7 L374.7,586.7 L377.0,588.8 L379.2,590.8 L381.6,592.8 L384.0,594.7 L386.4,596.5 L388.9,598.3 L391.5,600.0 L394.1,601.5 L396.8,602.9 L399.5,604.0 L402.2,605.0 L405.1,605.7 L407.9,606.1 L410.8,606.2 L413.7,606.0 L416.6,605.5 L419.6,604.7 L422.5,603.7 L425.4,602.6 L428.3,601.2 L431.1,599.8 L433.8,598.2 L436.4,596.5 L438.9,594.8 L441.4,593.0 L443.7,591.1 L446.0,589.2 L448.3,587.2 L450.4,585.1 L452.5,582.9 L454.5,580.7 L456.5,578.5 L458.4,576.2 L460.2,573.8 L462.0,571.5 L463.7,569.0 L465.4,566.6 L467.0,564.1 L468.6,561.5 L470.2,559.0 L471.7,556.4 L473.2,553.8 L474.6,551.1 L476.1,548.5 L477.5,545.8 L478.8,543.2 L480.2,540.5 L481.5,537.8 L482.8,535.1 L484.1,532.4 L485.4,529.7 L486.6,527.0 L487.8,524.2 L489.0,521.5 L490.2,518.8 L491.4,516.0 L492.5,513.2 L493.6,510.4 L494.7,507.7 L495.8,504.9 L496.9,502.1 L497.9,499.3 L499.0,496.5 L500.0,493.6 L501.0,490.8 L502.0,488.0 L502.9,485.1 L503.9,482.3 L504.8,479.5 L505.8,476.6 L506.7,473.7 L507.6,470.9 L508.5,468.0 L509.4,465.1 L510.2,462.3 L511.1,459.4 L512.0,456.5 L512.8,453.6 L513.6,450.7 L514.5,447.8 L515.3,445.0 L516.1,442.1 L516.9,439.2 L517.7,436.3 L518.5,433.4 L519.3,430.5 L520.1,427.6 L520.9,424.7 L521.6,421.7 L522.4,418.8 L523.1,415.9 L523.9,413.0 L524.7,410.1 L525.4,407.2 L526.1,404.3 L526.9,401.4 L527.6,398.4 L528.3,395.5 L529.0,392.6 L529.8,389.7 L530.5,386.8 L531.2,383.8 L531.9,380.9 L532.6,378.0 L533.3,375.1 L534.0,372.2 L534.7,369.2 L535.4,366.3 L536.1,363.4 L536.8,360.5 L537.4,357.5 L538.1,354.6 L538.8,351.7 L539.5,348.7 L540.2,345.8 L540.8,342.9 L541.5,340.0 L542.2,337.0 L542.9,334.1 L543.5,331.2 L544.2,328.2 L544.9,325.3 L545.6,322.4 L546.2,319.4 L546.9,316.5 L547.6,313.6 L548.2,310.7 L548.9,307.7 L549.6,304.8 L550.2,301.9 L550.9,299.0 L551.6,296.0 L552.3,293.1 L552.9,290.2 L553.6,287.3 L554.3,284.3 L555.0,281.4 L555.7,278.5 L556.4,275.6 L557.0,272.7 L557.7,269.7 L558.4,266.8 L559.1,263.9 L559.8,261.0 L560.5,258.1 L561.2,255.2 L561.9,252.3 L562.7,249.3 L563.4,246.4 L564.1,243.5 L564.8,240.6 L565.5,237.7 L566.3,234.8 L567.0,231.9 L567.8,229.0 L568.5,226.1 L569.3,223.2 L570.0,220.3 L570.8,217.4 L571.5,214.6 L572.3,211.7 L573.1,208.8 L573.9,205.9 L574.7,203.0 L575.5,200.1 L576.3,197.3 L577.1,194.4 L577.9,191.5 L578.7,188.7 L579.5,185.8 L580.4,182.9 L581.2,180.1 L582.1,177.2 L582.9,174.3 L583.8,171.5 L584.7,168.6 L585.6,165.8 L586.5,162.9 L587.5,160.1 L588.4,157.3 L589.4,154.4 L590.4,151.6 L591.5,148.8 L592.5,145.9 L593.7,143.1 L594.8,140.3 L596.0,137.5 L597.2,134.7 L598.5,131.9 L599.8,129.0 L601.2,126.2 L602.7,123.5 L604.1,120.7 L605.7,117.9 L607.3,115.1 L609.0,112.4 L610.8,110.0 L612.7,107.7 L614.8,105.9 L617.0,104.5 L619.4,103.6 L621.9,103.3 L624.6,103.5 L627.2,104.3 L629.9,105.5 L632.4,107.1 L634.7,109.0 L636.9,111.1 L638.9,113.3 L640.7,115.6 L642.4,118.0 L643.9,120.6 L645.4,123.2 L646.7,125.9 L648.0,128.7 L649.1,131.5 L650.3,134.4 L651.4,137.3 L652.5,140.1 L653.5,143.0 L654.6,145.9 L655.7,148.8 L656.7,151.6 L657.7,154.5 L658.8,157.4 L659.8,160.2 L660.8,163.1 L661.8,165.9 L662.8,168.8 L663.7,171.7 L664.7,174.5 L665.7,177.4 L666.6,180.2 L667.6,183.1 L668.5,185.9 L669.5,188.8 L670.4,191.6 L671.3,194.5 L672.3,197.4 L673.2,200.2 L674.1,203.1 L675.0,205.9 L675.9,208.8 L676.8,211.6 L677.7,214.5 L678.6,217.3 L679.5,220.2 L680.4,223.0 L681.3,225.9 L682.2,228.7 L683.1,231.6 L683.9,234.4 L684.8,237.3 L685.7,240.1 L686.6,243.0 L687.5,245.8 L688.4,248.7 L689.3,251.5 L690.2,254.4 L691.1,257.2 L691.9,260.1 L692.8,262.9 L693.7,265.8 L694.6,268.7 L695.5,271.5 L696.4,274.4 L697.3,277.2 L698.2,280.1 L699.1,282.9 L700.0,285.8 L700.9,288.6 L701.8,291.5 L702.7,294.4 L703.7,297.2 L704.6,300.1 L705.5,302.9 L706.4,305.8 L707.3,308.6 L708.2,311.5 L709.2,314.3 L710.1,317.2 L711.0,320.0 L712.0,322.9 L712.9,325.7 L713.8,328.6 L714.8,331.4 L715.7,334.3 L716.7,337.2 L717.6,340.0 L718.6,342.8 L719.6,345.7 L720.5,348.5 L721.5,351.4 L722.5,354.2 L723.5,357.1 L724.4,359.9 L725.4,362.8 L726.4,365.6 L727.4,368.5 L728.4,371.3 L729.4,374.1 L730.5,377.0 L731.5,379.8 L732.5,382.7 L733.5,385.5 L734.6,388.3 L735.6,391.2 L736.7,394.0 L737.7,396.8 L738.8,399.6 L739.9,402.5 L741.0,405.3 L742.1,408.1 L743.2,410.9 L744.3,413.7 L745.4,416.5 L746.6,419.3 L747.7,422.0 L748.9,424.8 L750.1,427.6 L751.3,430.3 L752.5,433.1 L753.7,435.8 L755.0,438.5 L756.3,441.2 L757.6,443.9 L758.9,446.6 L760.2,449.3 L761.5,452.0 L762.9,454.6 L764.3,457.3 L765.7,459.9 L767.1,462.5 L768.6,465.1 L770.1,467.7 L771.6,470.3 L773.1,472.8 L774.7,475.4 L776.2,477.9 L777.9,480.4 L779.5,482.9 L781.1,485.4 L782.8,487.8 L784.6,490.3 L786.3,492.7 L788.1,495.1 L789.9,497.5 L791.7,499.8 L793.6,502.2 L795.5,504.5 L797.4,506.8 L799.4,509.0 L801.3,511.3 L803.3,513.5 L805.4,515.7 L807.4,517.9 L809.5,520.1 L811.6,522.2 L813.8,524.3 L815.9,526.4 L818.1,528.5 L820.3,530.6 L822.6,532.6 L824.8,534.6 L827.1,536.6 L829.4,538.5 L831.7,540.5 L834.1,542.4 L836.4,544.3 L838.8,546.1 L841.2,548.0 L843.6,549.8 L846.1,551.6 L848.5,553.3 L851.0,555.0 L853.5,556.8 L856.0,558.4 L858.6,560.1 L861.1,561.7 L863.7,563.3 L866.2,564.9 L868.8,566.4 L871.4,568.0 L874.1,569.4 L876.7,570.9 L879.3,572.3 L882.0,573.8 L884.7,575.1 L887.3,576.5 L890.0,577.8 L892.7,579.1 L895.5,580.4 L898.2,581.6 L900.9,582.8 L903.7,584.0 L906.4,585.1 L909.2,586.3 L912.0,587.4 L914.7,588.5 L917.5,589.5 L920.3,590.5 L923.1,591.5 L926.0,592.5 L928.8,593.5 L931.6,594.4 L934.4,595.3 L937.3,596.2 L940.1,597.1 L943.0,598.0 L945.9,598.8 L948.7,599.6 L951.6,600.5 L954.5,601.2 L957.4,602.0 L960.3,602.8 L963.2,603.5 L966.1,604.2 L969.0,605.0 L971.9,605.7 L974.9,606.3 L977.8,607.0 L980.7,607.7 L983.6,608.3 L986.6,609.0 L989.5,609.6 L992.5,610.2 L995.4,610.8 L998.3,611.5 L1001.3,612.0 L1004.2,612.6 L1007.2,613.2 L1010.2,613.8 L1013.1,614.4 L1016.1,614.9 L1019.0,615.5 L1022.0,616.0 L1025.0,616.0 L1028.0,616.2 L1031.0,616.3 L1034.0,616.4 L1037.0,616.5 L1040.0,616.7 L1043.0,616.8 L1046.0,617.0 L1049.0,617.1 L1052.0,617.3 L1055.0,617.5 L1058.0,617.7 L1060.9,617.9 L1063.9,618.1 L1066.9,618.3 L1069.9,618.5 L1072.9,618.7 L1075.9,618.9 L1078.9,619.2 L1081.9,619.4 L1084.9,619.7 L1087.8,619.9 L1090.8,620.2 L1093.8,620.5 L1096.8,620.8 L1099.8,621.1 L1102.8,621.4 L1105.7,621.7 L1108.7,622.0 L1111.7,622.3 L1114.7,622.7 L1117.7,623.0 L1120.6,623.3 L1123.6,623.7 L1126.6,624.0 L1129.6,624.3 L1132.6,624.6 L1135.5,625.0 L1138.5,625.3 L1141.5,625.6 L1144.5,625.9 L1147.5,626.2 L1150.5,626.5 L1153.4,626.8 L1156.4,627.1 L1159.4,627.4 L1162.4,627.7 L1165.4,628.0 L1168.4,628.2 L1171.3,628.5 L1174.3,628.8 L1177.3,629.0 L1180.3,629.3 L1183.3,629.6 L1186.3,629.8 L1189.3,630.0 L1192.3,630.3 L1195.2,630.5 L1198.2,630.7 L1201.2,630.9 L1204.2,631.2 L1207.2,631.4 L1210.2,631.6 L1213.2,631.7 L1224.5,630.5 L1258.4,632.3 L1261.4,633.0 L1264.3,633.7 L1267.3,634.3 L1270.3,635.0 L1273.2,635.6 L1276.2,636.2 L1279.2,636.8 L1282.1,637.4 L1285.1,638.0 L1288.1,638.5 L1291.1,639.1 L1294.0,639.6 L1297.0,640.1 L1300.0,640.7 L1303.0,641.2 L1306.0,641.7 L1309.0,642.1 L1312.0,642.6 L1315.0,643.0 L1318.0,643.5 L1320.9,643.9 L1323.9,644.3 L1326.9,644.7 L1329.9,645.1 L1333.0,645.5 L1336.0,645.8 L1339.0,646.1 L1342.0,646.5 L1345.0,646.8 L1348.0,647.1 L1351.0,647.4 L1354.0,647.6 L1357.0,647.9 L1360.0,648.1 L1363.1,648.4 L1366.1,648.6 L1369.1,648.8 L1372.1,649.0 L1375.2,649.2 L1378.2,649.4 L1381.2,649.5 L1384.2,649.7 L1387.3,649.9 L1390.3,650.0 L1393.3,650.2 L1396.3,650.4 L1399.4,650.5 L1402.4,650.7 L1405.4,650.9 L1408.4,651.0 L1411.5,651.2 L1414.5,651.4 L1417.5,651.5 L1420.5,651.7 L1423.6,651.9 L1426.6,652.1 L1429.6,652.2 L1432.6,652.4 L1435.7,652.6 L1438.7,652.8 L1441.7,653.0 L1444.7,653.2 L1447.8,653.4 L1450.8,653.5 L1453.8,653.7 L1456.8,653.9 L1459.9,654.1 L1462.9,654.3 L1465.9,654.5 L1468.9,654.7 L1472.0,655.0 L1475.0,655.2 L1478.0,655.4 L1481.0,654.8 L1484.0,654.3 L1487.0,653.7 L1490.0,653.1 L1492.9,652.6 L1495.9,652.0 L1498.9,651.5 L1501.9,650.9 L1504.9,650.4 L1507.9,649.9 L1510.9,649.3 L1513.9,648.8 L1516.9,648.3 L1519.9,647.8 L1522.9,647.4 L1525.9,646.9 L1528.9,646.5 L1531.9,646.1 L1534.9,645.7 L1537.9,645.4 L1540.9,645.0 L1543.9,644.7 L1546.9,644.4 L1549.9,644.2 L1552.9,644.0 L1555.9,643.8 L1558.9,643.6 L1561.9,643.5 L1564.9,643.4 L1567.9,643.4 L1570.9,643.4 L1573.9,643.5 L1576.9,643.6 L1579.8,643.7 L1582.8,643.8 L1585.8,644.0 L1588.8,644.2 L1591.8,644.5 L1594.8,644.8 L1597.8,645.1 L1600.8,645.4 L1603.8,645.8 L1606.8,646.2 L1609.8,646.6 L1612.8,647.0 L1615.8,647.4 L1618.8,647.9 L1621.8,648.3 L1624.8,648.8 L1627.8,649.3 L1630.8,649.8 L1633.8,650.3 L1636.8,650.9 L1639.8,651.4 L1642.7,651.9 L1645.7,652.4 L1648.7,653.0 L1651.7,653.5 L1654.7,654.0 L1657.7,654.6 L1660.7,655.1 L1663.8,654.8 L1666.8,654.7 L1669.9,654.6 L1672.9,654.5 L1676.0,654.4 L1679.0,654.3 L1682.1,654.2 L1685.1,654.2 L1688.2,654.2 L1691.2,654.2 L1694.3,654.2 L1697.3,654.3 L1700.4,654.4 L1703.4,654.5 L1706.5,654.6 L1709.5,654.8 L1712.5,655.0 L1715.6,655.2 L1718.6,655.4 L1721.7,655.7 L1724.7,655.9 L1727.7,656.2 L1730.8,656.5 L1733.8,656.9 L1736.8,657.2 L1739.8,657.6 L1742.9,658.0 L1745.9,658.4 L1748.9,658.8 L1752.0,659.3 L1755.0,659.7 L1758.0,660.2 L1761.0,660.7 L1764.0,661.2 L1767.1,661.7 L1770.1,662.2 L1773.1,662.8 L1776.1,663.4 L1779.1,663.2 L1782.2,663.1 L1785.2,663.0 L1788.2,662.8 L1791.3,662.7 L1794.3,662.6 L1797.3,662.5 L1800.3,662.4 L1803.4,662.3 L1806.4,662.2 L1809.4,662.2 L1812.5,662.1 L1815.5,662.1 L1818.5,662.0 L1821.5,662.0 L1824.6,662.0 L1827.6,662.0 L1830.6,662.0 L1833.6,662.1 L1836.7,662.1 L1839.7,662.2 L1842.7,662.3 L1845.7,662.4 L1848.7,662.5 L1851.8,662.7 L1854.8,662.8 L1857.8,663.0 L1860.8,663.2 L1863.9,663.4 L1866.9,663.6 L1869.9,663.8 L1872.9,664.1 L1875.9,664.3 L1878.9,664.6 L1882.0,664.9 L1885.0,665.2 L1888.0,665.5 L1891.0,665.8 L1894.0,666.1 L1897.0,666.4 L1900.1,666.8 L1903.1,667.1 L1906.1,667.5 L1909.1,667.8 L1912.1,668.2 L1915.1,668.6 L1918.1,668.9 L1921.2,669.3 L1924.2,669.7 L1927.2,670.1 L1930.2,670.5"/>
<line x1="628.7" y1="121.8" x2="618.4" y2="1614.8" stroke="#5b9bd5" stroke-width="9" stroke-dasharray="34.2 24.15"/>
<rect x="1337.8" y="105.85" width="173.4" height="13.1" rx="5" ry="5" fill="#000000"/>
<text class="lg" x="1520.7" y="133.0">SNP</text>
<rect x="1337.8" y="230.65" width="173.4" height="13.1" rx="5" ry="5" fill="#00b050"/>
<text class="lg" x="1520.7" y="257.8">SNP-0.5DA</text>
<rect x="1337.8" y="355.45" width="173.4" height="13.1" rx="5" ry="5" fill="#ff0000"/>
<text class="lg" x="1520.7" y="382.6">SNP-1.0DA</text>
<rect x="1337.8" y="480.25" width="173.4" height="13.1" rx="5" ry="5" fill="#0070c0"/>
<text class="lg" x="1520.7" y="507.4">SNP-1.5DA</text>
<text class="lg" style="letter-spacing:0.8px" x="435.6" y="95.6">23°</text>
<text class="tick" x="102.3" y="1732">0</text>
<text class="tick" x="558.6" y="1732">20</text>
<text class="tick" x="1016.2" y="1732">40</text>
<text class="tick" x="1472.6" y="1732">60</text>
<text class="tick" x="1929.7" y="1732">80</text>
<text class="ttl" x="1154.7" y="1835.4">2theta (Degree)</text>
<text class="ttl" style="letter-spacing:0.5px" transform="translate(72,823.8) rotate(-90)">Intensity</text>
</svg>
</body>
</html>
